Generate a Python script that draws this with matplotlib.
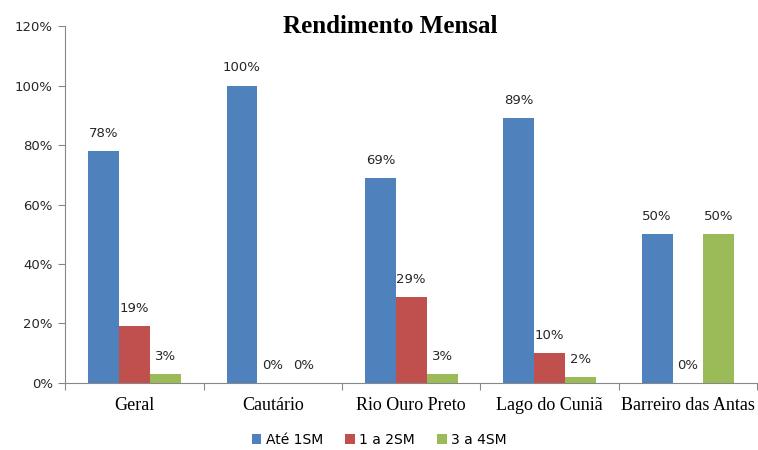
import matplotlib.pyplot as plt
import numpy as np

# dados
categorias = ["Geral", "Cautário", "Rio Ouro Preto", "Lago do Cuniã", "Barreiro das Antas"]
series = ["Até 1SM", "1 a 2SM", "3 a 4SM"]
ate_1sm = [78, 100, 69, 89, 50]
de_1_a_2sm = [19, 0, 29, 10, 0]
de_3_a_4sm = [3, 0, 3, 2, 50]
cores = ["#4F81BD", "#C0504D", "#9BBB59"]
yticks = [0, 20, 40, 60, 80, 100, 120]

fig = plt.figure(figsize=(7.58, 4.5), dpi=100)
ax = fig.add_axes([0.086, 0.149, 0.913, 0.793])

x = np.arange(len(categorias))
w = 0.223
valores = [ate_1sm, de_1_a_2sm, de_3_a_4sm]
for i, (vals, nome, cor) in enumerate(zip(valores, series, cores)):
    pos = x + (i - 1) * w
    bars = ax.bar(pos, vals, width=w, color=cor, label=nome)
    for b, v in zip(bars, vals):
        ax.annotate(f"{v}%", (b.get_x() + b.get_width() / 2, v),
                    xytext=(0, 8), textcoords="offset points",
                    ha="center", va="bottom", fontsize=9.5, color="#262626")

ax.set_xlim(-0.5, len(categorias) - 0.5)
ax.set_ylim(0, 120)
ax.set_yticks(yticks)
ax.set_yticklabels([f"{t}%" for t in yticks], fontsize=9.5, color="#262626")

# ticks do eixo x entre categorias
ax.set_xticks(np.arange(-0.5, len(categorias) + 0.5, 1))
ax.set_xticklabels([])
ax.set_xticks(x, minor=True)
ax.set_xticklabels(categorias, minor=True, family="Liberation Serif", fontsize=13)
ax.tick_params(axis="x", which="minor", length=0, pad=10)
ax.tick_params(axis="x", which="major", length=5, color="#888888")
ax.tick_params(axis="y", length=5, color="#888888", pad=4)

for s in ["top", "right"]:
    ax.spines[s].set_visible(False)
for s in ["left", "bottom"]:
    ax.spines[s].set_color("#888888")

fig.text(0.515, 0.942, "Rendimento Mensal", ha="center", va="center",
         family="Liberation Serif", fontweight="bold", fontsize=18)

fig.legend(loc="center", bbox_to_anchor=(0.5, 0.022), ncol=3, frameon=False,
           fontsize=10, handlelength=0.7, handleheight=0.7, handletextpad=0.3,
           columnspacing=1.6)

fig.savefig("out.png", dpi=100)
